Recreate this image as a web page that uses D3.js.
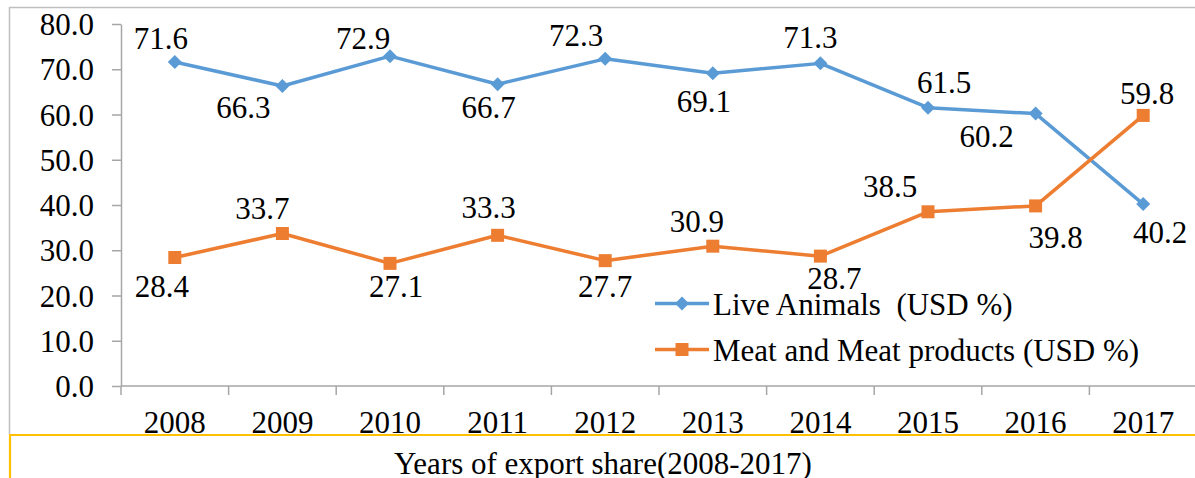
<!DOCTYPE html>
<html>
<head>
<meta charset="utf-8">
<script src="https://cdn.jsdelivr.net/npm/d3@7/dist/d3.min.js"></script>
<style>
  html, body { margin: 0; padding: 0; background: #fff; }
  svg { display: block; }
  text { font-family: "Liberation Serif", "Times New Roman", serif; fill: #000; }
</style>
</head>
<body>
<svg id="chart" width="1195" height="478"></svg>
<script>
// ---- data ----
const years = ["2008","2009","2010","2011","2012","2013","2014","2015","2016","2017"];
const liveAnimals = [71.6, 66.3, 72.9, 66.7, 72.3, 69.1, 71.3, 61.5, 60.2, 40.2];
const meatProducts = [28.4, 33.7, 27.1, 33.3, 27.7, 30.9, 28.7, 38.5, 39.8, 59.8];
const yTicks = [0, 10, 20, 30, 40, 50, 60, 70, 80];
const seriesNames = ["Live Animals  (USD %)", "Meat and Meat products (USD %)"];
const xTitle = "Years of export share(2008-2017)";

// ---- layout (label nudges in px, relative to each point) ----
const liveLabelDx = [-14, -39, -27, -9, -29, -9, -10, 16, -49, 17];
const liveLabelDy = [-13, 32, -7, 34, -13, 39, -15, -15, 33, 39];
const meatLabelDx = [-13, -20, 6, -9, 0, -16, 14, -38, 20, 4];
const meatLabelDy = [40, -15, 34, -17, 36, -14, 33, -15, 42, -11];

const FONT = 31;
const svg = d3.select("#chart");

const x = d3.scaleBand().domain(years).range([121, 1197]).padding(0);
const y = d3.scaleLinear().domain([0, 80]).range([386, 24]);
const cx = d => x(d) + x.bandwidth() / 2;

const axisColor = "#A6A6A6";

// outer frame (chart area border)
svg.append("line").attr("x1", 9).attr("x2", 1195).attr("y1", 7.5).attr("y2", 7.5)
  .attr("stroke", "#BFBFBF").attr("stroke-width", 1.5);
svg.append("line").attr("x1", 9.5).attr("x2", 9.5).attr("y1", 7).attr("y2", 434)
  .attr("stroke", "#BFBFBF").attr("stroke-width", 1.5);

// y axis
const yAxis = svg.append("g").attr("transform", "translate(121,0)")
  .call(d3.axisLeft(y).tickValues(yTicks).tickSize(9).tickSizeOuter(0)
        .tickPadding(18).tickFormat(d3.format(".1f")));
yAxis.select(".domain").attr("stroke", axisColor).attr("stroke-width", 1.5);
yAxis.selectAll(".tick line").attr("stroke", axisColor).attr("stroke-width", 1.5);
yAxis.selectAll(".tick text").attr("font-size", FONT)
  .attr("font-family", "Liberation Serif, Times New Roman, serif").attr("fill", "#000")
  .attr("dy", "0.34em");

// x axis
const xg = svg.append("g");
xg.append("line").attr("x1", 121).attr("x2", 1197).attr("y1", y(0)).attr("y2", y(0))
  .attr("stroke", axisColor).attr("stroke-width", 1.5);
xg.selectAll("line.tk").data(years).join("line").attr("class", "tk")
  .attr("x1", d => x(d)).attr("x2", d => x(d))
  .attr("y1", y(0)).attr("y2", y(0) + 9)
  .attr("stroke", axisColor).attr("stroke-width", 1.5);
xg.selectAll("text").data(years).join("text")
  .attr("x", d => cx(d)).attr("y", 433)
  .attr("text-anchor", "middle").attr("font-size", FONT).text(d => d);

// yellow separator lines
svg.append("line").attr("x1", 9).attr("x2", 1195).attr("y1", 435).attr("y2", 435)
  .attr("stroke", "#FFC000").attr("stroke-width", 2.2);
svg.append("line").attr("x1", 10).attr("x2", 10).attr("y1", 434).attr("y2", 478)
  .attr("stroke", "#FFC000").attr("stroke-width", 2.2);

// x title
svg.append("text").attr("x", 603).attr("y", 474).attr("text-anchor", "middle")
  .attr("font-size", FONT).text(xTitle);

// series
const line = d3.line().x((d, i) => cx(years[i])).y(d => y(d));
const blue = "#5B9BD5", orange = "#ED7D31";

const diamond = r => `M0,${-r}L${r},0L0,${r}L${-r},0Z`;
const square = s => `M${-s/2},${-s/2}h${s}v${s}h${-s}Z`;

function drawSeries(vals, color, markerPath, dxs, dys) {
  const g = svg.append("g");
  g.append("path").datum(vals).attr("d", line).attr("fill", "none")
    .attr("stroke", color).attr("stroke-width", 3.5).attr("stroke-linejoin", "round");
  g.selectAll("path.mk").data(vals).join("path").attr("class", "mk")
    .attr("transform", (d, i) => `translate(${cx(years[i])},${y(d)})`)
    .attr("d", markerPath).attr("fill", color);
  g.selectAll("text").data(vals).join("text")
    .attr("x", (d, i) => cx(years[i]) + dxs[i])
    .attr("y", (d, i) => y(d) + dys[i])
    .attr("text-anchor", "middle").attr("font-size", FONT)
    .text(d => d.toFixed(1));
}
drawSeries(liveAnimals, blue, diamond(7), liveLabelDx, liveLabelDy);
drawSeries(meatProducts, orange, square(13), meatLabelDx, meatLabelDy);

// legend
const legend = svg.append("g");
const legendItems = [
  {name: seriesNames[0], color: blue, mk: diamond(7), base: 315},
  {name: seriesNames[1], color: orange, mk: square(13), base: 361}
];
legendItems.forEach(it => {
  const ly = it.base - 11.5;
  legend.append("line").attr("x1", 655).attr("x2", 709).attr("y1", ly).attr("y2", ly)
    .attr("stroke", it.color).attr("stroke-width", 3.5);
  legend.append("path").attr("transform", `translate(682,${ly})`).attr("d", it.mk).attr("fill", it.color);
  legend.append("text").attr("x", 713).attr("y", it.base).attr("font-size", FONT)
    .style("white-space", "pre").attr("xml:space", "preserve").text(it.name);
});
</script>
</body>
</html>
